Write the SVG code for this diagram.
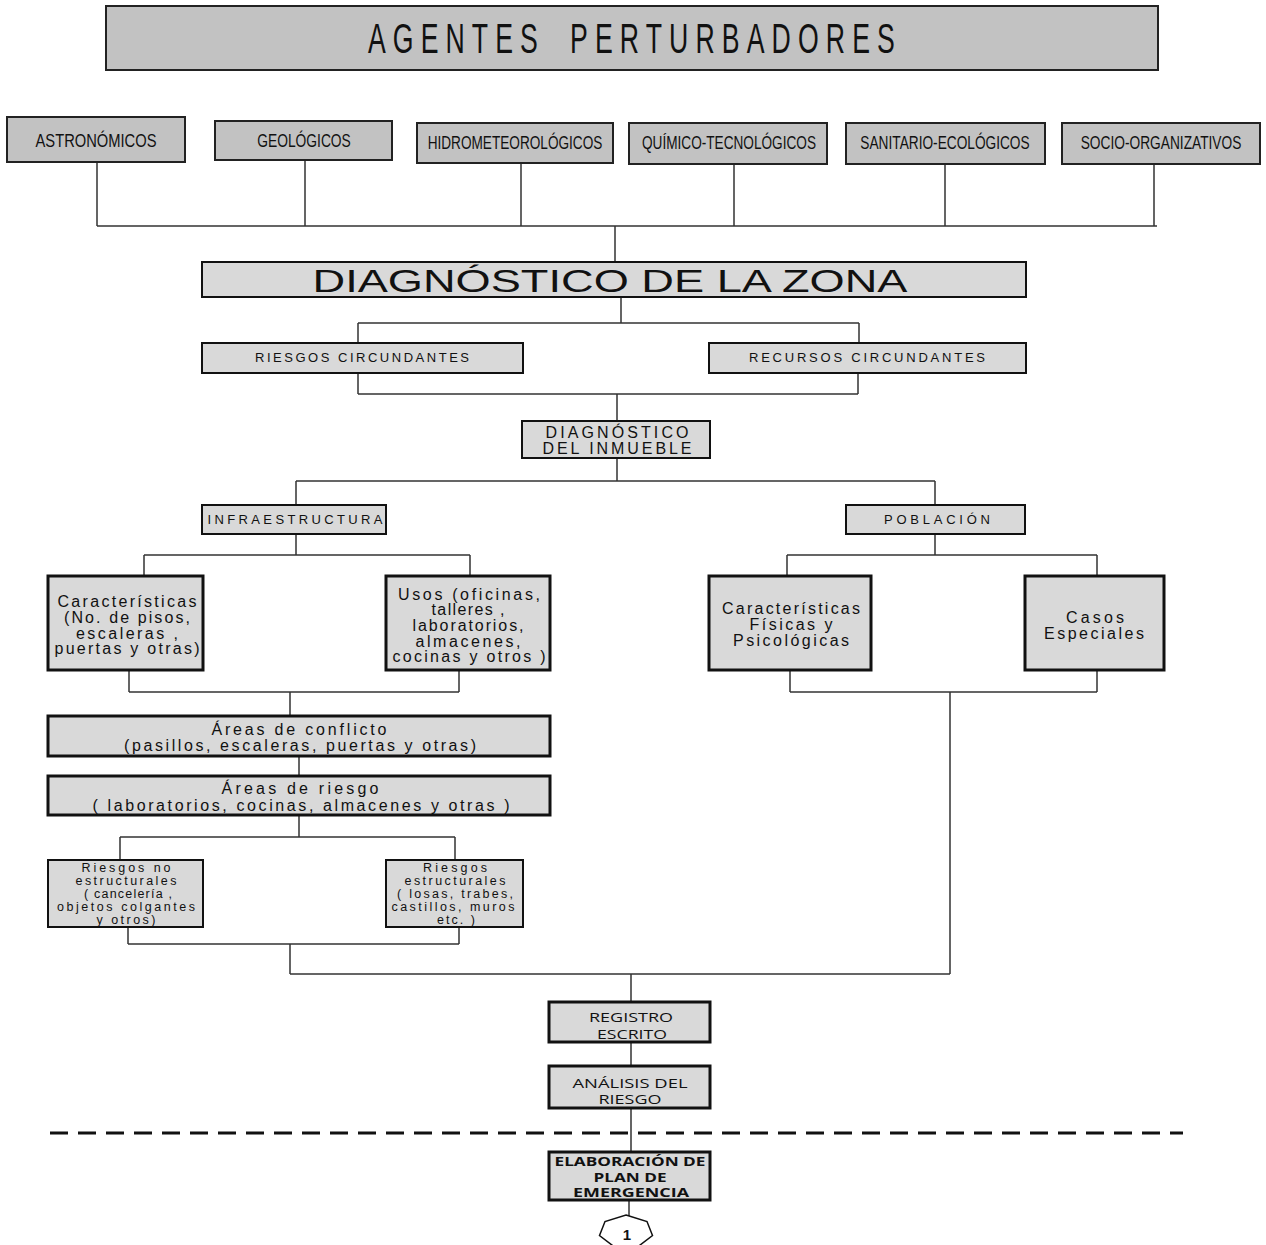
<svg xmlns="http://www.w3.org/2000/svg" width="1266" height="1245" viewBox="0 0 1266 1245">
<style>
.bx{fill:#d9d9d9;stroke:#111;stroke-width:2}
.bxd{fill:#c2c2c2;stroke:#222;stroke-width:2}
.bxt{fill:#d9d9d9;stroke:#111;stroke-width:3}
.ln{fill:none;stroke:#333;stroke-width:1.5}
.nar{font-family:"Liberation Sans",Arial,sans-serif;fill:#111;text-anchor:middle}
.ttl{font-family:"Liberation Sans",Arial,sans-serif;fill:#111;font-size:43px}
.ar{font-family:"Liberation Sans",Arial,sans-serif;fill:#111;text-anchor:middle}
.cal{font-family:"Open Sans","Noto Sans",sans-serif;fill:#111;text-anchor:middle}
</style>
<rect width="1266" height="1245" fill="#fff"/>

<g id="connectors">
<path class="ln" d="M97 162V226M305 160V226M521 163V226M734 164V226M945 164V226M1154 164V226M97 226H1157M615 226V262"/>
<path class="ln" d="M621 297V323M358 323H859M358 323V343M859 323V343"/>
<path class="ln" d="M358 373V394M858 373V394M358 394H858M617 394V421"/>
<path class="ln" d="M617 440V481M296 481H935M296 481V505M935 481V505"/>
<path class="ln" d="M296 534V555M144 555H470M144 555V576M470 555V576"/>
<path class="ln" d="M935 534V555M787 555H1097M787 555V576M1097 555V576"/>
<path class="ln" d="M129 670V692M459 670V692M129 692H459M290 692V716"/>
<path class="ln" d="M790 670V692M1097 670V692M790 692H1097M950 692V974M290 974H950"/>
<path class="ln" d="M299 756V776M299 815V837M120 837H455M120 837V860M455 837V860"/>
<path class="ln" d="M128 927V944M459 927V944M128 944H459M290 944V974"/>
<path class="ln" d="M631 974V1002M631 1030V1066M631 1095V1152M629 1200V1216"/>
<line x1="50" y1="1133" x2="1183" y2="1133" stroke="#111" stroke-width="3" stroke-dasharray="18 10"/>
</g>

<g id="agentes">
<rect class="bxd" x="106" y="6" width="1052" height="64"/>
<text class="ttl" transform="translate(368,53) scale(0.62,1)" x="0" y="0" textLength="274">AGENTES</text>
<text class="ttl" transform="translate(570,53) scale(0.62,1)" x="0" y="0" textLength="524">PERTURBADORES</text>
</g>
<g id="astronomicos"><rect class="bxd" x="7" y="117" width="178" height="45"/><text class="nar" transform="translate(96,147) scale(0.78,1)" font-size="19" textLength="155" lengthAdjust="spacingAndGlyphs">ASTRONÓMICOS</text></g>
<g id="geologicos"><rect class="bxd" x="215" y="121" width="177" height="39"/><text class="nar" transform="translate(304,147) scale(0.78,1)" font-size="19" textLength="120" lengthAdjust="spacingAndGlyphs">GEOLÓGICOS</text></g>
<g id="hidro"><rect class="bxd" x="417" y="123" width="196" height="40"/><text class="nar" transform="translate(515,149) scale(0.78,1)" font-size="19" textLength="224" lengthAdjust="spacingAndGlyphs">HIDROMETEOROLÓGICOS</text></g>
<g id="quimico"><rect class="bxd" x="629" y="123" width="198" height="41"/><text class="nar" transform="translate(729,149) scale(0.78,1)" font-size="19" textLength="223" lengthAdjust="spacingAndGlyphs">QUÍMICO-TECNOLÓGICOS</text></g>
<g id="sanitario"><rect class="bxd" x="846" y="123" width="199" height="41"/><text class="nar" transform="translate(945,149) scale(0.78,1)" font-size="19" textLength="217" lengthAdjust="spacingAndGlyphs">SANITARIO-ECOLÓGICOS</text></g>
<g id="socio"><rect class="bxd" x="1062" y="123" width="198" height="41"/><text class="nar" transform="translate(1161,149) scale(0.78,1)" font-size="19" textLength="206" lengthAdjust="spacingAndGlyphs">SOCIO-ORGANIZATIVOS</text></g>

<g id="diag-zona"><rect class="bx" x="202" y="262" width="824" height="35"/><text class="ar" x="610" y="292" font-size="31" textLength="595" lengthAdjust="spacingAndGlyphs">DIAGNÓSTICO DE LA ZONA</text></g>
<g id="riesgos-circ"><rect class="bx" x="202" y="343" width="321" height="30"/><text class="ar" x="362" y="362" font-size="13" textLength="214">RIESGOS CIRCUNDANTES</text></g>
<g id="recursos-circ"><rect class="bx" x="709" y="343" width="317" height="30"/><text class="ar" x="867" y="362" font-size="13" textLength="236">RECURSOS CIRCUNDANTES</text></g>
<g id="diag-inmueble"><rect class="bx" x="522" y="421" width="188" height="37"/>
<text class="ar" x="617" y="438" font-size="16" textLength="143">DIAGNÓSTICO</text><text class="ar" x="617" y="454" font-size="16" textLength="149">DEL INMUEBLE</text></g>
<g id="infra"><rect class="bx" x="202" y="505" width="184" height="29"/><text class="ar" x="295" y="524" font-size="13" textLength="175">INFRAESTRUCTURA</text></g>
<g id="poblacion"><rect class="bx" x="846" y="505" width="179" height="29"/><text class="ar" x="937" y="524" font-size="13" textLength="106">POBLACIÓN</text></g>

<g id="caracteristicas"><rect class="bxt" x="48" y="576" width="155" height="94"/>
<text class="ar" font-size="16"><tspan x="127" y="607" textLength="139">Características</tspan><tspan x="127" y="623" textLength="126">(No. de pisos,</tspan><tspan x="127" y="639" textLength="102">escaleras ,</tspan><tspan x="127" y="654" textLength="145">puertas y otras)</tspan></text></g>
<g id="usos"><rect class="bxt" x="386" y="576" width="164" height="94"/>
<text class="ar" font-size="16"><tspan x="469" y="600" textLength="142">Usos  (oficinas,</tspan><tspan x="468" y="615" textLength="73">talleres ,</tspan><tspan x="468" y="631" textLength="111">laboratorios,</tspan><tspan x="468" y="647" textLength="105">almacenes,</tspan><tspan x="469" y="662" textLength="153">cocinas y otros )</tspan></text></g>
<g id="fisicas"><rect class="bxt" x="709" y="576" width="162" height="94"/>
<text class="ar" font-size="16"><tspan x="791" y="614" textLength="138">Características</tspan><tspan x="791" y="630" textLength="83">Físicas y</tspan><tspan x="791" y="646" textLength="116">Psicológicas</tspan></text></g>
<g id="casos"><rect class="bxt" x="1025" y="576" width="139" height="94"/>
<text class="ar" font-size="16"><tspan x="1095" y="623" textLength="58">Casos</tspan><tspan x="1094" y="639" textLength="100">Especiales</tspan></text></g>

<g id="areas-conflicto"><rect class="bxt" x="48" y="716" width="502" height="40"/>
<text class="ar" font-size="16"><tspan x="299" y="735" textLength="175">Áreas de conflicto</tspan><tspan x="300" y="751" textLength="352">(pasillos, escaleras, puertas y otras)</tspan></text></g>
<g id="areas-riesgo"><rect class="bxt" x="48" y="776" width="502" height="39"/>
<text class="ar" font-size="16"><tspan x="300" y="794" textLength="157">Áreas de riesgo</tspan><tspan x="301" y="811" textLength="417">( laboratorios, cocinas, almacenes y otras )</tspan></text></g>

<g id="riesgos-no-estr"><rect class="bx" x="48" y="860" width="155" height="67"/>
<text class="ar" font-size="12.5"><tspan x="126" y="872" textLength="89">Riesgos no</tspan><tspan x="126" y="885" textLength="101">estructurales</tspan><tspan x="128" y="898" textLength="88">( cancelería ,</tspan><tspan x="126" y="911" textLength="138">objetos colgantes</tspan><tspan x="126" y="924" textLength="59">y otros)</tspan></text></g>
<g id="riesgos-estr"><rect class="bx" x="386" y="860" width="137" height="67"/>
<text class="ar" font-size="12.5"><tspan x="455" y="872" textLength="64">Riesgos</tspan><tspan x="455" y="885" textLength="101">estructurales</tspan><tspan x="455" y="898" textLength="116">( losas, trabes,</tspan><tspan x="453" y="911" textLength="123">castillos, muros</tspan><tspan x="456" y="924" textLength="38">etc. )</tspan></text></g>

<g id="registro"><rect class="bxt" x="549" y="1002" width="161" height="40"/>
<text class="cal" font-size="13"><tspan x="631" y="1022" textLength="84" lengthAdjust="spacingAndGlyphs">REGISTRO</tspan><tspan x="632" y="1039" textLength="70" lengthAdjust="spacingAndGlyphs">ESCRITO</tspan></text></g>
<g id="analisis"><rect class="bxt" x="549" y="1066" width="161" height="42"/>
<text class="cal" font-size="13"><tspan x="630" y="1088" textLength="115" lengthAdjust="spacingAndGlyphs">ANÁLISIS DEL</tspan><tspan x="630" y="1104" textLength="63" lengthAdjust="spacingAndGlyphs">RIESGO</tspan></text></g>
<g id="elaboracion"><rect class="bxt" x="549" y="1152" width="161" height="48"/>
<text class="cal" font-size="12.5" font-weight="bold"><tspan x="630" y="1166" textLength="151" lengthAdjust="spacingAndGlyphs">ELABORACIÓN DE</tspan><tspan x="630" y="1182" textLength="73" lengthAdjust="spacingAndGlyphs">PLAN DE</tspan><tspan x="631" y="1197" textLength="116" lengthAdjust="spacingAndGlyphs">EMERGENCIA</tspan></text></g>
<g id="conector-1"><polygon points="626,1215 647,1221.5 652.5,1235.5 637.5,1247 614.5,1247 599.5,1235.5 605,1221.5" fill="#fff" stroke="#111" stroke-width="1.5"/>
<text class="ar" x="627" y="1240" font-size="15" font-weight="bold">1</text></g>
</svg>
